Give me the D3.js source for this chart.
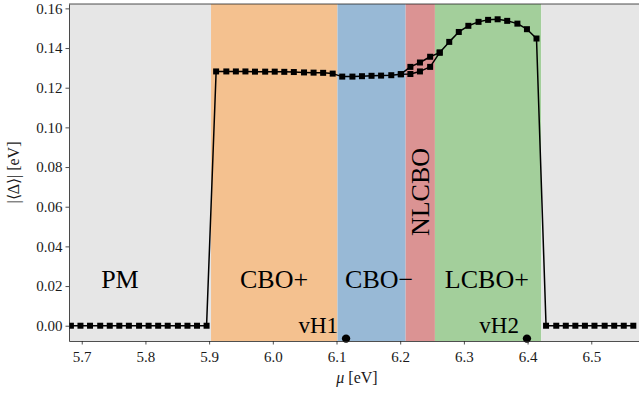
<!DOCTYPE html>
<html lang="en">
  <head>
    <meta charset="UTF-8" />
    <title>Order parameter vs chemical potential</title>
    <style>
      body { margin: 0; background: white; }
      svg text { font-family: "Liberation Serif", "Times New Roman", serif; }
    </style>
    <script src="https://d3js.org/d3.v7.min.js"></script>
  </head>
  <body>
    <div id="svg-container"></div>
    <script>
      // chemical potential grid (eV)
      const mu = [
        5.683, 5.698, 5.713, 5.729, 5.744, 5.759, 5.774, 5.790, 5.805, 5.820,
        5.835, 5.851, 5.866, 5.881, 5.896, 5.911, 5.927, 5.942, 5.957, 5.972,
        5.988, 6.003, 6.018, 6.033, 6.049, 6.064, 6.079, 6.094, 6.109, 6.125,
        6.140, 6.155, 6.170, 6.186, 6.201, 6.216, 6.231, 6.247, 6.262, 6.277,
        6.292, 6.307, 6.323, 6.338, 6.353, 6.368, 6.384, 6.399, 6.414, 6.429,
        6.445, 6.460, 6.475, 6.490, 6.505, 6.521, 6.536, 6.551, 6.566
      ];
      // |<Delta>| (eV), main branch
      const delta = [
        0, 0, 0, 0, 0, 0, 0, 0, 0, 0, 0, 0, 0, 0, 0,
        0.1282, 0.1282, 0.1282, 0.1282, 0.1281, 0.1281, 0.1281, 0.1280, 0.1279,
        0.1277, 0.1276, 0.1275, 0.1271,
        0.1256, 0.1256, 0.1258, 0.1260, 0.1261, 0.1263, 0.1268,
        0.1269, 0.1282, 0.1305,
        0.1377, 0.1431, 0.1481, 0.1512, 0.1532, 0.1542, 0.1545, 0.1537, 0.1523,
        0.1495, 0.1448,
        0, 0, 0, 0, 0, 0, 0, 0, 0, 0
      ];
      // second branch inside the NLCBO window
      const muBranch = [6.201, 6.216, 6.231, 6.247, 6.262];
      const deltaBranch = [0.1268, 0.1305, 0.1327, 0.1356, 0.1377];

      // phase windows
      const phaseEdges = [5.903, 6.1015, 6.2085, 6.2545, 6.4215];
      const phaseColors = ["#e6e6e6", "#f4c18f", "#98b9d6", "#db9393", "#a3cf9b", "#e6e6e6"];
      const phaseNames = ["PM", "CBO+", "CBO\u2212", "NLCBO", "LCBO+"];
      const phaseNameMu = [5.760, 6.002, 6.167, 6.231, 6.336];
      const phaseNameY = [0.019, 0.019, 0.019, 0.0674, 0.019];

      // van Hove points
      const vhNames = ["vH1", "vH2"];
      const vhMu = [6.115, 6.399];

      const xTicks = [5.7, 5.8, 5.9, 6.0, 6.1, 6.2, 6.3, 6.4, 6.5];
      const yTicks = [0, 0.02, 0.04, 0.06, 0.08, 0.1, 0.12, 0.14, 0.16];

      const serif = "'Liberation Serif', 'Times New Roman', serif";
      const width = 639, height = 396;
      const m = { left: 69, right: 640, top: 4, bottom: 341 };

      const svg = d3
        .select("#svg-container")
        .append("svg")
        .attr("width", width)
        .attr("height", height);

      const x = d3.scaleLinear().domain([5.68, 6.5765]).range([m.left, m.right]);
      const y = d3.scaleLinear().domain([-0.0077, 0.1622]).range([m.bottom, m.top]);

      svg.append("defs").append("clipPath").attr("id", "plot-clip")
        .append("rect")
        .attr("x", m.left).attr("y", m.top)
        .attr("width", m.right - m.left).attr("height", m.bottom - m.top);

      // background bands
      const edges = [x.domain()[0]].concat(phaseEdges, [x.domain()[1]]);
      svg.append("g")
        .selectAll("rect")
        .data(phaseColors)
        .join("rect")
        .attr("x", (d, i) => x(edges[i]))
        .attr("y", m.top)
        .attr("width", (d, i) => x(edges[i + 1]) - x(edges[i]))
        .attr("height", m.bottom - m.top)
        .attr("fill", d => d);

      const plot = svg.append("g").attr("clip-path", "url(#plot-clip)");

      function drawSeries(xs, ys) {
        const pts = xs.map((v, i) => [v, ys[i]]);
        plot.append("path")
          .datum(pts)
          .attr("fill", "none")
          .attr("stroke", "black")
          .attr("stroke-width", 1.5)
          .attr("stroke-linejoin", "round")
          .attr("d", d3.line().x(d => x(d[0])).y(d => y(d[1])));
        plot.append("g")
          .selectAll("rect")
          .data(pts)
          .join("rect")
          .attr("x", d => x(d[0]) - 3)
          .attr("y", d => y(d[1]) - 3)
          .attr("width", 6)
          .attr("height", 6)
          .attr("fill", "black");
      }
      drawSeries(mu, delta);
      drawSeries(muBranch, deltaBranch);

      // phase labels
      phaseNames.forEach((name, i) => {
        const t = svg.append("text")
          .style("font-family", serif)
          .attr("font-size", "26px")
          .attr("fill", "black")
          .attr("text-anchor", "middle")
          .text(name);
        if (name === "NLCBO") {
          t.attr("transform", `translate(${x(phaseNameMu[i]) + 9},${y(phaseNameY[i])}) rotate(-90)`);
        } else {
          t.attr("x", x(phaseNameMu[i])).attr("y", y(phaseNameY[i]));
        }
      });

      // van Hove markers
      vhNames.forEach((name, i) => {
        svg.append("text")
          .style("font-family", serif)
          .attr("x", x(vhMu[i]) - 8)
          .attr("y", y(-0.0035))
          .attr("text-anchor", "end")
          .attr("font-size", "23px")
          .attr("fill", "black")
          .text(name);
        svg.append("circle")
          .attr("cx", x(vhMu[i]))
          .attr("cy", y(-0.0065))
          .attr("r", 4.2)
          .attr("fill", "black");
      });

      // axes
      const xAxis = svg.append("g")
        .attr("transform", `translate(0,${m.bottom})`)
        .call(d3.axisBottom(x).tickValues(xTicks).tickFormat(d3.format(".1f")).tickSize(3.5).tickSizeOuter(0));
      const yAxis = svg.append("g")
        .attr("transform", `translate(${m.left},0)`)
        .call(d3.axisLeft(y).tickValues(yTicks).tickFormat(d3.format(".2f")).tickSize(3.5).tickSizeOuter(0));
      [xAxis, yAxis].forEach(a => {
        a.attr("font-family", null).attr("font-size", null);
        a.selectAll("text")
          .style("font-family", serif)
          .style("font-size", "15px")
          .attr("fill", "#1a1a1a");
        a.select(".domain").attr("stroke", "#222").attr("stroke-width", 0.8);
        a.selectAll(".tick line").attr("stroke", "#222").attr("stroke-width", 0.8);
      });
      xAxis.selectAll("text").attr("dy", "0.95em");

      // top spine
      svg.append("line")
        .attr("x1", m.left).attr("x2", m.right)
        .attr("y1", m.top).attr("y2", m.top)
        .attr("stroke", "#222").attr("stroke-width", 0.8);

      // axis labels
      const xl = svg.append("text")
        .style("font-family", serif)
        .attr("x", (m.left + width) / 2 + 3)
        .attr("y", 383)
        .attr("text-anchor", "middle")
        .attr("font-size", "16px")
        .attr("fill", "#1a1a1a");
      xl.append("tspan").attr("font-style", "italic").text("\u03bc");
      xl.append("tspan").text(" [eV]");

      svg.append("text")
        .style("font-family", serif)
        .attr("transform", `translate(19,${(m.top + m.bottom) / 2}) rotate(-90)`)
        .attr("text-anchor", "middle")
        .attr("font-size", "16px")
        .attr("fill", "#1a1a1a")
        .text("|\u27e8\u0394\u27e9| [eV]");
    </script>
  </body>
</html>
